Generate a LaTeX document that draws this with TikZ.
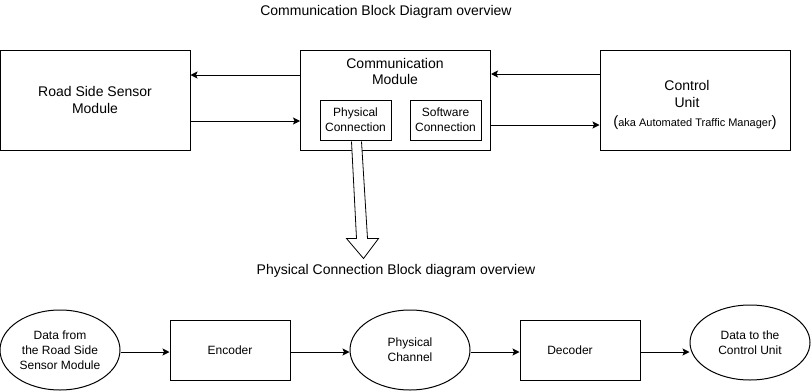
\documentclass[tikz,border=0pt]{standalone}
\usepackage{fontspec}
\setmainfont{Liberation Sans}
\usetikzlibrary{shapes,arrows.meta,positioning,calc}

\begin{document}
\begin{tikzpicture}[x=1pt, y=-1pt,
    module/.style={draw, line width=1pt, rectangle, minimum width=190pt, minimum height=100pt, align=center, font=\fontsize{14}{17}\selectfont},
    unit/.style={draw, line width=1pt, rectangle, minimum width=71pt, minimum height=40pt, align=center, font=\fontsize{12}{15}\selectfont},
    block/.style={draw, line width=1pt, rectangle, minimum width=120pt, minimum height=60pt, font=\fontsize{12}{15}\selectfont},
    signal/.style={draw, line width=1pt, ellipse, minimum width=120pt, minimum height=80pt, inner sep=0pt, align=center, font=\fontsize{12}{15}\selectfont},
    link/.style={line width=1pt, -{Stealth[length=7pt, width=7pt, inset=1.5pt]}},
    heading/.style={font=\fontsize{14}{17}\selectfont}]

\useasboundingbox (0,0) rectangle (811,391);

% Upper diagram
\node[heading] (title) at (386,12) {Communication Block Diagram overview};

\node[module] (road) at (95,100) {Road Side Sensor\\Module};
\node[module] (comm) at (395.5,100) {};
\node[module] (ctrl) at (695,100) {};

\node[align=center, font=\fontsize{14}{16}\selectfont] (commtext) at (395,71) {Communication\\Module};
\node[unit] (phys) at (355.5,120) {Physical\\Connection};
\node[unit] (soft) at (445.5,120) {Software\\Connection};

\node[align=center, font=\fontsize{14}{17}\selectfont] (ctrltext) at (687,93.5) {Control\\Unit};
\node[font=\fontsize{11}{13}\selectfont] (aka) at (695,123)
    {{\fontsize{15}{17}\selectfont(}aka Automated Traffic Manager{\fontsize{15}{17}\selectfont)}};

\draw[link] ([yshift=25pt]comm.west) -- ([yshift=25pt]road.east);
\draw[link] ([yshift=-21pt]road.east) -- ([yshift=-21pt]comm.west);
\draw[link] ([yshift=26pt]ctrl.west) -- ([yshift=26pt]comm.east);
\draw[link] ([yshift=-25pt]comm.east) -- ([yshift=-25pt]ctrl.west);

% Hollow arrow down to the lower diagram
\draw[line width=0.8pt, fill=white, shift={(phys.south)}]
    (-4,1) -- (1,98) -- (-9,98) -- (8,118) -- (23,98) -- (12,98) -- (6,1);

% Lower diagram
\node[heading] (subtitle) at (396,271) {Physical Connection Block diagram overview};

\node[signal] (datain) at (60,350) {Data from\\the Road Side\\Sensor Module};
\node[block] (enc) at (230,350) {Encoder};
\node[signal] (chan) at (410,350) {Physical\\Channel};
\node[block] (dec) at (580,350) {Decoder\hspace*{20pt}};
\node[signal, minimum height=75pt] (dataout) at (750,342.5) {Data to the\\Control Unit};

\draw[link] ([yshift=-2pt]datain.east) -- ([yshift=-2pt]enc.west);
\draw[link] ([yshift=-2pt]enc.east) -- ([yshift=-2pt]chan.west);
\draw[link] ([yshift=-2pt]chan.east) -- ([yshift=-2pt]dec.west);
\draw[link] ([yshift=-2pt]dec.east) -- ([yshift=-2pt]dec.east -| dataout.west);
\end{tikzpicture}
\end{document}
